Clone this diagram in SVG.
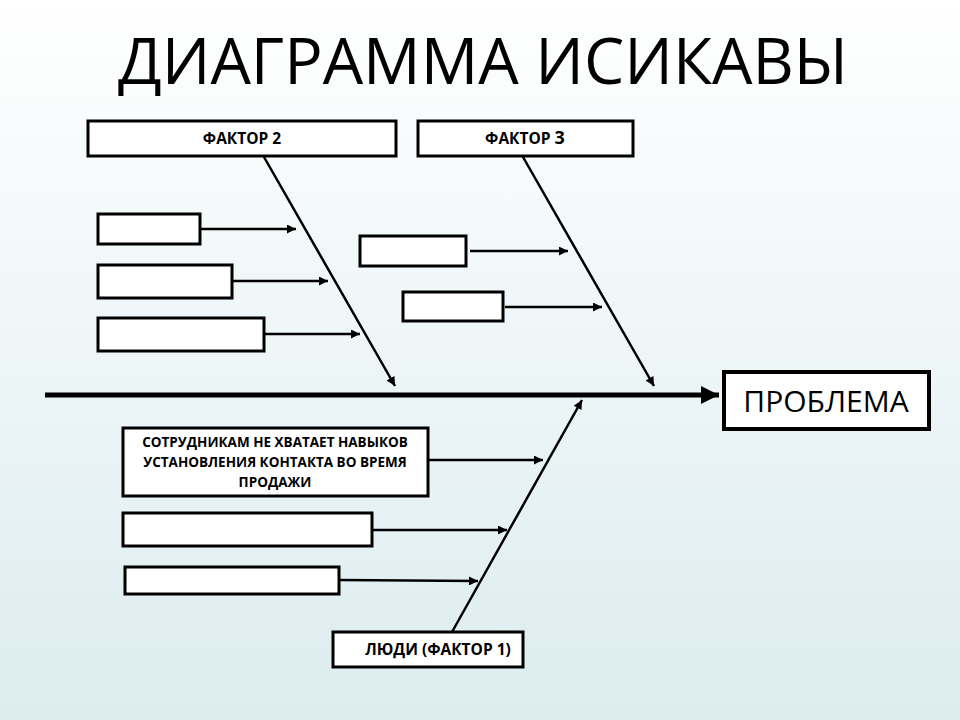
<svg xmlns="http://www.w3.org/2000/svg" width="960" height="720" viewBox="0 0 960 720">
<defs>
<linearGradient id="bg" x1="0" y1="0" x2="0" y2="1"><stop offset="0" stop-color="#ffffff"/><stop offset="1" stop-color="#dcecef"/></linearGradient>
<marker id="ahs" viewBox="0 0 10 10" refX="10" refY="5" markerWidth="14" markerHeight="9" orient="auto" markerUnits="userSpaceOnUse"><path d="M0,0 L10,5 L0,10 z" fill="#000"/></marker>
<marker id="ahb" viewBox="0 0 10 10" refX="10" refY="5" markerWidth="32" markerHeight="18" orient="auto" markerUnits="userSpaceOnUse"><path d="M0,0 L10,5 L0,10 z" fill="#000"/></marker>
</defs>
<style>
.b{fill:#fff;stroke:#000;stroke-width:3}
.t{font-family:"Open Sans","DejaVu Sans",sans-serif;font-weight:bold;font-size:15.5px;text-anchor:middle;fill:#000}
.s{font-size:13.5px}
.c{stroke:#000;stroke-width:2.5;fill:none;marker-end:url(#ahs)}
</style>
<rect width="960" height="720" fill="url(#bg)"/>
<text x="483" y="84" font-family="'Open Sans','DejaVu Sans',sans-serif" font-size="64" text-anchor="middle">ДИАГРАММА ИСИКАВЫ</text>
<g id="connectors">
<line x1="45" y1="395" x2="719" y2="395" stroke="#000" stroke-width="5" marker-end="url(#ahb)"/>
<line class="c" x1="264" y1="157" x2="395" y2="386"/>
<line class="c" x1="523" y1="157" x2="654" y2="386"/>
<line class="c" x1="452" y1="632" x2="582" y2="400"/>
<line class="c" x1="200" y1="229" x2="296" y2="229"/>
<line class="c" x1="232" y1="281" x2="328" y2="281"/>
<line class="c" x1="264" y1="334" x2="360" y2="334"/>
<line class="c" x1="470" y1="251" x2="568" y2="251"/>
<line class="c" x1="505" y1="307" x2="602" y2="307"/>
<line class="c" x1="428" y1="460" x2="543" y2="460"/>
<line class="c" x1="372" y1="530" x2="507" y2="530"/>
<line class="c" x1="339" y1="580" x2="478" y2="581"/>
</g>
<g id="problem"><rect x="724" y="372" width="205" height="57" fill="#fff" stroke="#000" stroke-width="4"/><text x="826" y="412" font-family="'Open Sans','DejaVu Sans',sans-serif" font-size="30" text-anchor="middle">ПРОБЛЕМА</text></g>
<g id="factor2"><rect class="b" x="88" y="121" width="308" height="35"/><text class="t" x="242" y="144">ФАКТОР 2</text></g>
<g id="factor3"><rect class="b" x="418" y="121" width="215" height="35"/><text class="t" x="525" y="144">ФАКТОР <tspan font-size="18">3</tspan></text></g>
<g id="factor1"><rect class="b" x="333" y="632" width="190" height="35"/><text class="t" x="438" y="655">ЛЮДИ (ФАКТОР 1)</text></g>
<g id="c1"><rect class="b" x="98" y="214" width="102" height="30"/></g>
<g id="c2"><rect class="b" x="98" y="265" width="134" height="33"/></g>
<g id="c3"><rect class="b" x="98" y="318" width="166" height="33"/></g>
<g id="c4"><rect class="b" x="360" y="236" width="106" height="30"/></g>
<g id="c5"><rect class="b" x="403" y="292" width="100" height="29"/></g>
<g id="c6"><rect class="b" x="123" y="428" width="305" height="68"/>
<text class="t s" x="275" y="447">СОТРУДНИКАМ НЕ ХВАТАЕТ НАВЫКОВ</text>
<text class="t s" x="275" y="467">УСТАНОВЛЕНИЯ КОНТАКТА ВО ВРЕМЯ</text>
<text class="t s" x="275" y="487">ПРОДАЖИ</text></g>
<g id="c7"><rect class="b" x="123" y="513" width="249" height="33"/></g>
<g id="c8"><rect class="b" x="125" y="567" width="214" height="27"/></g>
</svg>
